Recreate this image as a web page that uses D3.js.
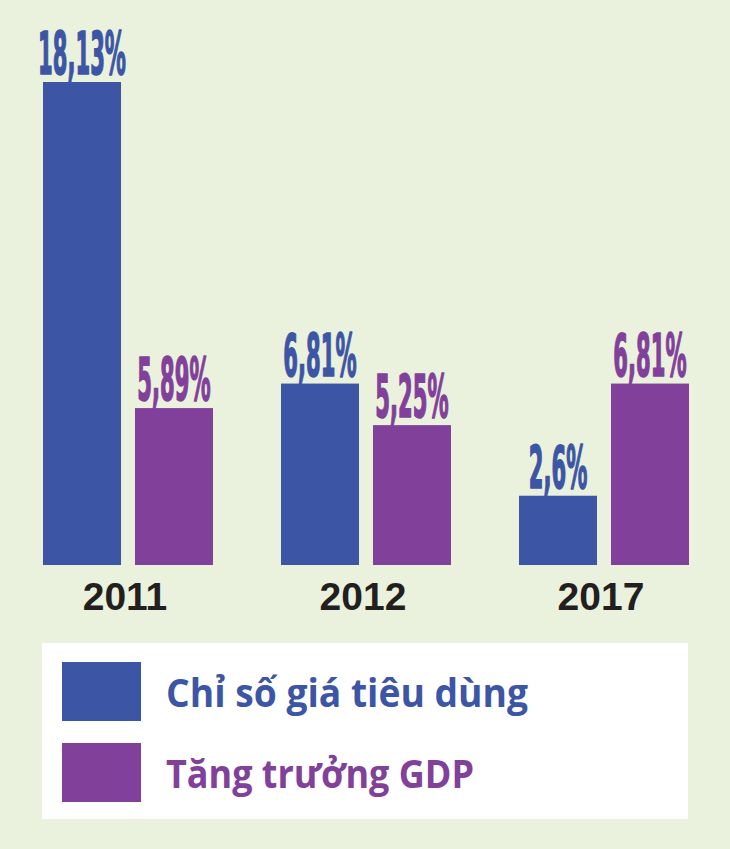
<!DOCTYPE html>
<html>
<head>
<meta charset="utf-8">
<script src="https://cdn.jsdelivr.net/npm/d3@7"></script>
<style>
  html, body { margin: 0; padding: 0; background: #eaf1dc; }
  svg { display: block; }
</style>
</head>
<body>
<svg id="chart" width="730" height="849"></svg>
<script>
const years = ["2011", "2012", "2017"];
const seriesNames = ["Chỉ số giá tiêu dùng", "Tăng trưởng GDP"];
const cpi = [18.13, 6.81, 2.6];
const gdp = [5.89, 5.25, 6.81];
const cpiLabels = ["18,13%", "6,81%", "2,6%"];
const gdpLabels = ["5,89%", "5,25%", "6,81%"];
const colors = ["#3c55a5", "#81409a"];

const svg = d3.select("#chart");
svg.append("rect").attr("width", 730).attr("height", 849).attr("fill", "#eaf1dc");

const x0 = d3.scaleBand().domain(years).range([43, 689]).paddingInner(0.2857).paddingOuter(0);
const x1 = d3.scaleBand().domain([0, 1]).range([0, x0.bandwidth()]).paddingInner(0.152).paddingOuter(0);
const y = d3.scaleLinear().domain([0, 18.13]).range([565, 82]);

const data = [];
years.forEach((yr, i) => {
  data.push({ year: yr, s: 0, v: cpi[i], label: cpiLabels[i] });
  data.push({ year: yr, s: 1, v: gdp[i], label: gdpLabels[i] });
});

const g = svg.append("g");
g.selectAll("rect.bar").data(data).join("rect")
  .attr("class", "bar")
  .attr("x", d => x0(d.year) + x1(d.s))
  .attr("y", d => y(d.v))
  .attr("width", x1.bandwidth())
  .attr("height", d => y(0) - y(d.v))
  .attr("fill", d => colors[d.s]);

// value labels (condensed)
const labels = g.selectAll("g.vl").data(data).join("g")
  .attr("class", "vl");
const lt = labels.append("text")
  .text(d => d.label)
  .attr("text-anchor", "middle")
  .attr("font-family", "'Liberation Sans Narrow', 'DejaVu Sans Condensed', 'Liberation Sans', sans-serif")
  .attr("font-weight", "bold")
  .attr("font-size", 58)
  .attr("fill", d => colors[d.s])
  .attr("stroke", d => colors[d.s])
  .attr("stroke-width", 1.6)
  .attr("stroke-linejoin", "round");
const refW = lt.filter(d => d.label === "18,13%").node().getComputedTextLength();
const sx = 88 / refW;
labels.attr("transform", d => `translate(${x0(d.year) + x1(d.s) + x1.bandwidth() / 2},${y(d.v) - 8}) scale(${sx},1)`);

// year axis labels
g.selectAll("text.yr").data(years).join("text")
  .attr("class", "yr")
  .attr("x", d => x0(d) + x0.bandwidth() / 2 - 3)
  .attr("y", 610)
  .attr("text-anchor", "middle")
  .attr("font-family", "'Liberation Sans', Arial, sans-serif")
  .attr("font-weight", "bold")
  .attr("font-size", 39)
  .attr("fill", "#231f20")
  .text(d => d);

// legend
const leg = svg.append("g");
leg.append("rect").attr("x", 42).attr("y", 643).attr("width", 646).attr("height", 176).attr("fill", "#ffffff");
const legW = [362, 308];
const legY = [662, 743];
seriesNames.forEach((name, i) => {
  leg.append("rect").attr("x", 62).attr("y", legY[i]).attr("width", 79).attr("height", 59).attr("fill", colors[i]);
  leg.append("text")
    .attr("x", 166)
    .attr("y", legY[i] + 45)
    .attr("font-family", "'Open Sans', 'Noto Sans', sans-serif")
    .attr("font-weight", "bold")
    .attr("font-size", 39)
    .attr("fill", colors[i])
    .attr("textLength", legW[i])
    .attr("lengthAdjust", "spacingAndGlyphs")
    .text(name);
});
</script>
</body>
</html>
